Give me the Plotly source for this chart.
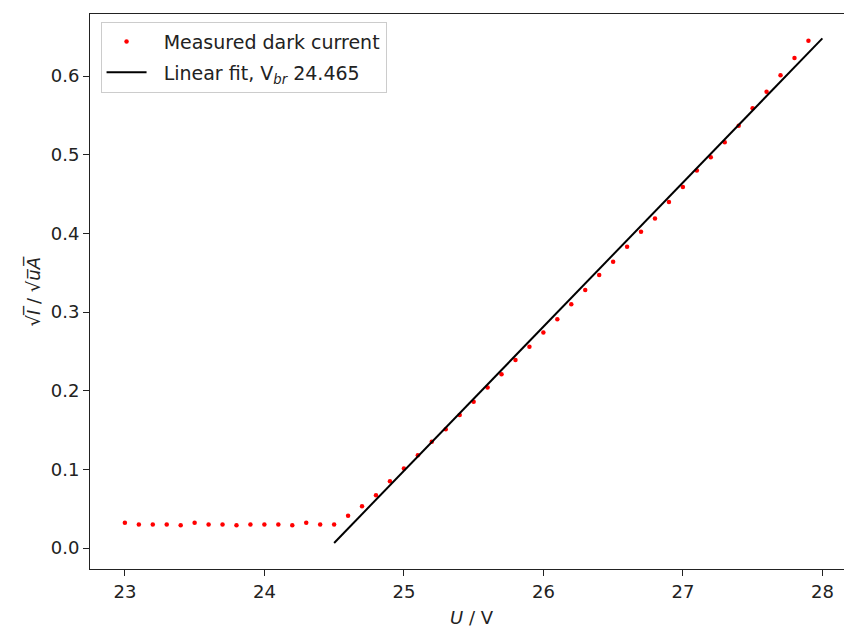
import plotly.graph_objects as go

# Measured dark current (square root of current) vs. bias voltage
voltage = [23.0, 23.1, 23.2, 23.3, 23.4, 23.5, 23.6, 23.7, 23.8, 23.9,
           24.0, 24.1, 24.2, 24.3, 24.4, 24.5, 24.6, 24.7, 24.8, 24.9,
           25.0, 25.1, 25.2, 25.3, 25.4, 25.5, 25.6, 25.7, 25.8, 25.9,
           26.0, 26.1, 26.2, 26.3, 26.4, 26.5, 26.6, 26.7, 26.8, 26.9,
           27.0, 27.1, 27.2, 27.3, 27.4, 27.5, 27.6, 27.7, 27.8, 27.9]
sqrt_current = [0.032, 0.030, 0.030, 0.030, 0.029, 0.032, 0.030, 0.030, 0.029, 0.030,
                0.030, 0.030, 0.029, 0.032, 0.030, 0.030, 0.041, 0.053, 0.067, 0.085,
                0.101, 0.118, 0.135, 0.151, 0.169, 0.186, 0.204, 0.221, 0.239, 0.256,
                0.274, 0.291, 0.310, 0.328, 0.347, 0.364, 0.383, 0.402, 0.419, 0.440,
                0.459, 0.480, 0.497, 0.516, 0.537, 0.559, 0.580, 0.601, 0.623, 0.645]

# Linear fit above breakdown
v_br = 24.465
fit_slope = 0.1833
fit_x = [24.5, 28.0]
fit_y = [fit_slope * (x - v_br) for x in fit_x]

x_ticks = [23, 24, 25, 26, 27, 28]
y_ticks = [0.0, 0.1, 0.2, 0.3, 0.4, 0.5, 0.6]

FONT = "DejaVu Sans"
FS = 18
INK = "#222222"

fig = go.Figure()
fig.add_trace(go.Scatter(
    x=voltage, y=sqrt_current, mode="markers",
    marker=dict(color="#ff0000", size=4.5, line=dict(width=0)),
    name="\u00a0\u00a0Measured dark current", legendgroup="data",
))
fig.add_trace(go.Scatter(
    x=fit_x, y=fit_y, mode="lines",
    line=dict(color="black", width=2),
    name=f"\u00a0\u00a0Linear fit, V<sub><i>br</i></sub> {v_br:.3f}", legendgroup="fit",
))

fig.update_layout(
    width=844, height=627,
    margin=dict(l=90, r=0, t=14, b=58),
    paper_bgcolor="white", plot_bgcolor="white",
    font=dict(family=FONT, size=FS, color=INK),
    showlegend=True,
    legend=dict(
        x=0.014, y=0.986, xanchor="left", yanchor="top",
        bgcolor="rgba(255,255,255,0.8)", bordercolor="#cccccc", borderwidth=1,
        font=dict(family=FONT, size=19, color=INK),
        itemwidth=40, tracegroupgap=3,
    ),
)
fig.update_xaxes(
    range=[22.75, 28.155], tickvals=x_ticks, ticktext=[str(t) for t in x_ticks],
    showgrid=False, zeroline=False,
    showline=True, linecolor=INK, linewidth=1, mirror=True,
    ticks="outside", ticklen=6, tickwidth=1, tickcolor=INK,
)
fig.update_yaxes(
    range=[-0.0267, 0.679], tickvals=y_ticks, tickformat=".1f",
    showgrid=False, zeroline=False,
    showline=True, linecolor=INK, linewidth=1, mirror=False,
    ticks="outside", ticklen=6, tickwidth=1, tickcolor=INK,
)

fig.add_annotation(
    text="<i>U</i> / V", xref="paper", yref="paper",
    x=(472 - 90) / 754, y=0, yshift=-48, xanchor="center", yanchor="middle",
    showarrow=False, font=dict(family=FONT, size=FS, color=INK),
)
fig.add_annotation(
    text="√<i>I\u0305</i> / √<i>u\u0305A\u0305</i>", xref="paper", yref="paper",
    x=(33 - 90) / 754, y=0.5, xanchor="center", yanchor="middle", textangle=-90,
    showarrow=False, font=dict(family=FONT, size=FS, color=INK),
)

fig.write_html("out.html")
